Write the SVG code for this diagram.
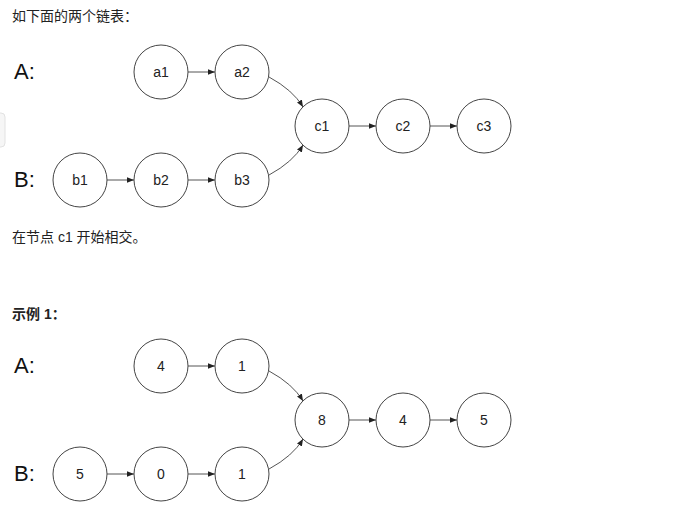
<svg xmlns="http://www.w3.org/2000/svg" width="675" height="518" viewBox="0 0 675 518">
<defs>
<marker id="ah" viewBox="0 0 10 10" refX="10" refY="5" markerWidth="7" markerHeight="7" orient="auto" markerUnits="userSpaceOnUse"><path d="M0,1 L10,5 L0,9 z" fill="#222"/></marker>
<g id="dia">
<g id="conn" fill="none" stroke="#555" stroke-width="1" marker-end="url(#ah)">
<path d="M188,72 H215"/>
<path d="M107,180 H134"/>
<path d="M188,180 H215"/>
<path d="M349,126 H376"/>
<path d="M430,126 H457"/>
<path d="M269,77 Q293,90 303,107"/>
<path d="M269,175 Q293,162 303,145"/>
</g>
</g>
</defs>
<style>
.n circle{fill:#fff;stroke:#444;stroke-width:1}
.n text,.t{font-family:"Liberation Sans",Arial,sans-serif;font-size:14px;fill:#222;text-anchor:middle}
.L{font-family:"Liberation Sans",Arial,sans-serif;font-size:22px;fill:#111}
.h{font-family:"Liberation Sans","Noto Sans CJK SC",sans-serif;font-size:14px;fill:#222}
</style>
<rect width="675" height="518" fill="#fff"/>
<rect x="-6" y="113" width="11" height="34" rx="4" fill="#f6f6f6" stroke="#e2e2e2"/>
<text class="h" x="12" y="21">如下面的两个链表：</text>
<text class="h" x="12" y="242">在节点 c1 开始相交。</text>
<text class="h" x="12" y="319" font-weight="bold">示例 1：</text>
<g id="d1">
<text class="L" x="14" y="79">A:</text>
<text class="L" x="14" y="187">B:</text>
<use href="#dia"/>
<g id="a1" class="n"><circle cx="161" cy="72" r="27"/><text x="161" y="77">a1</text></g>
<g id="a2" class="n"><circle cx="242" cy="72" r="27"/><text x="242" y="77">a2</text></g>
<g id="c1" class="n"><circle cx="322" cy="126" r="27"/><text x="322" y="131">c1</text></g>
<g id="c2" class="n"><circle cx="403" cy="126" r="27"/><text x="403" y="131">c2</text></g>
<g id="c3" class="n"><circle cx="484" cy="126" r="27"/><text x="484" y="131">c3</text></g>
<g id="b1" class="n"><circle cx="80" cy="180" r="27"/><text x="80" y="185">b1</text></g>
<g id="b2" class="n"><circle cx="161" cy="180" r="27"/><text x="161" y="185">b2</text></g>
<g id="b3" class="n"><circle cx="242" cy="180" r="27"/><text x="242" y="185">b3</text></g>
</g>
<g id="d2" transform="translate(0,294)">
<text class="L" x="14" y="79">A:</text>
<text class="L" x="14" y="187">B:</text>
<use href="#dia"/>
<g id="x4a" class="n"><circle cx="161" cy="72" r="27"/><text x="161" y="77">4</text></g>
<g id="x1a" class="n"><circle cx="242" cy="72" r="27"/><text x="242" y="77">1</text></g>
<g id="x8" class="n"><circle cx="322" cy="126" r="27"/><text x="322" y="131">8</text></g>
<g id="x4b" class="n"><circle cx="403" cy="126" r="27"/><text x="403" y="131">4</text></g>
<g id="x5b" class="n"><circle cx="484" cy="126" r="27"/><text x="484" y="131">5</text></g>
<g id="x5" class="n"><circle cx="80" cy="180" r="27"/><text x="80" y="185">5</text></g>
<g id="x0" class="n"><circle cx="161" cy="180" r="27"/><text x="161" y="185">0</text></g>
<g id="x1b" class="n"><circle cx="242" cy="180" r="27"/><text x="242" y="185">1</text></g>
</g>
</svg>
